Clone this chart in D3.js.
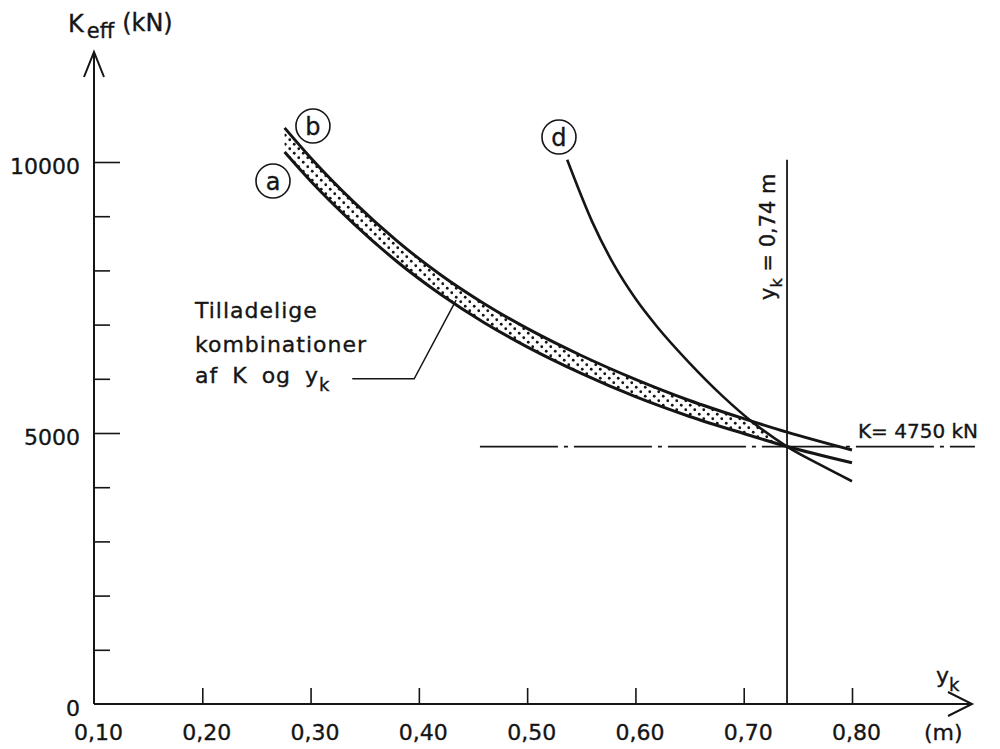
<!DOCTYPE html>
<html>
<head>
<meta charset="utf-8">
<script src="https://cdn.jsdelivr.net/npm/d3@7"></script>
<style>
  body { margin: 0; background: #fff; }
  text { font-family: "DejaVu Sans", sans-serif; fill: #151515; stroke: #151515; stroke-width: 0.35px; }
</style>
</head>
<body>
<div class="chart"></div>
<script>
// tick values
var xTicks = [0.1, 0.2, 0.3, 0.4, 0.5, 0.6, 0.7, 0.8];
var yTicks = [0, 1000, 2000, 3000, 4000, 5000, 6000, 7000, 8000, 9000, 10000];
var yLabelled = [0, 5000, 10000];

// curves a and b (edges of the dotted band), K_eff in kN against y_k in m
var bandYk = [0.276, 0.30, 0.34, 0.38, 0.42, 0.46, 0.50, 0.55, 0.60, 0.65, 0.70, 0.74, 0.80];
var curveA = [10185, 9650, 8860, 8160, 7560, 7040, 6590, 6100, 5670, 5305, 4990, 4750, 4450];
var curveB = [10630, 10080, 9260, 8540, 7920, 7390, 6930, 6430, 5990, 5600, 5265, 5015, 4685];

// curve d
var curveDYk = [0.537, 0.56, 0.58, 0.60, 0.62, 0.65, 0.68, 0.71, 0.74, 0.77, 0.80];
var curveD = [10040, 8900, 8110, 7480, 6960, 6290, 5690, 5170, 4750, 4420, 4110];

var kLimit = 4750;
var ykLimit = 0.74;

var svgWidth = 1000;
var svgHeight = 749;

var margin = {
  top: 52,
  right: 148,
  bottom: 45,
  left: 94
};

var width = svgWidth - margin.left - margin.right;
var height = svgHeight - margin.top - margin.bottom;

var svg = d3.select(".chart")
  .append("svg")
  .attr("width", svgWidth)
  .attr("height", svgHeight);

svg.append("rect")
  .attr("width", svgWidth)
  .attr("height", svgHeight)
  .attr("fill", "#fff");

var chartGroup = svg.append("g")
  .attr("transform", `translate(${margin.left}, ${margin.top})`);

var xScale = d3.scaleLinear()
  .domain([0.1, 0.8])
  .range([0, width]);

var yScale = d3.scaleLinear()
  .domain([0, 10000])
  .range([height, 110]);

// dot pattern for the admissible band
var defs = svg.append("defs");
var pattern = defs.append("pattern")
  .attr("id", "dots")
  .attr("patternUnits", "userSpaceOnUse")
  .attr("width", 9)
  .attr("height", 9);
pattern.append("circle").attr("cx", 2.25).attr("cy", 2.25).attr("r", 1.4).attr("fill", "#151515");
pattern.append("circle").attr("cx", 6.75).attr("cy", 6.75).attr("r", 1.4).attr("fill", "#151515");

var band = bandYk.map((yk, i) => ({yk: yk, a: curveA[i], b: curveB[i]}));
var dPoints = curveDYk.map((yk, i) => ({yk: yk, k: curveD[i]}));

var line = d3.line()
  .x(d => xScale(d.yk))
  .y(d => yScale(d.k))
  .curve(d3.curveMonotoneX);

// clip the band to the side of curve d
var dPath = line(dPoints);
var xd0 = xScale(curveDYk[0]);
var xdN = xScale(curveDYk[curveDYk.length - 1]);
defs.append("clipPath")
  .attr("id", "leftOfD")
  .append("path")
  .attr("d", `M-10,-60 L${xd0},-60 ` + dPath.replace(/^M/, "L") + ` L${xdN + 40},${height + 10} L-10,${height + 10} Z`);

var area = d3.area()
  .x(d => xScale(d.yk))
  .y0(d => yScale(d.a))
  .y1(d => yScale(d.b))
  .curve(d3.curveMonotoneX);

chartGroup.append("path")
  .datum(band)
  .attr("d", area)
  .attr("fill", "url(#dots)")
  .attr("clip-path", "url(#leftOfD)");

// axes
var xAxis = d3.axisBottom(xScale)
  .tickValues(xTicks)
  .tickSize(-16)
  .tickFormat(d => d.toFixed(2).replace(".", ","));

var gx = chartGroup.append("g")
  .attr("transform", `translate(0, ${height})`)
  .attr("font-size", null)
  .attr("color", "#151515")
  .call(xAxis);
gx.select(".domain").remove();
gx.selectAll(".tick").filter(d => d === 0.1).select("line").remove();
gx.selectAll(".tick line").attr("stroke-width", 1.6);
gx.selectAll(".tick text")
  .attr("y", 36)
  .attr("dy", null)
  .attr("dx", 4)
  .style("font-size", "22px");

var yAxis = d3.axisLeft(yScale)
  .tickValues(yTicks)
  .tickSize(-16)
  .tickFormat(d => yLabelled.includes(d) ? d : "");

var gy = chartGroup.append("g")
  .attr("font-size", null)
  .attr("color", "#151515")
  .call(yAxis);
gy.select(".domain").remove();
gy.selectAll(".tick").filter(d => d === 0).select("line").remove();
gy.selectAll(".tick line")
  .attr("x2", d => yLabelled.includes(d) ? 26 : 16)
  .attr("stroke-width", 1.6);
gy.selectAll(".tick text")
  .attr("x", -14)
  .attr("dy", "0.5em")
  .style("font-size", "22px");

// axis lines with open arrow heads
chartGroup.append("path")
  .attr("d", `M0,${height} V0 M-10,25 L0,0 L10,25`)
  .attr("fill", "none")
  .attr("stroke", "#151515")
  .attr("stroke-width", 2);

chartGroup.append("path")
  .attr("d", `M0,${height} H878 M854,${height - 12} L878,${height} L854,${height + 12}`)
  .attr("fill", "none")
  .attr("stroke", "#151515")
  .attr("stroke-width", 2);

// limit lines
chartGroup.append("line")
  .attr("x1", xScale(ykLimit))
  .attr("x2", xScale(ykLimit))
  .attr("y1", yScale(10040))
  .attr("y2", height)
  .attr("stroke", "#151515")
  .attr("stroke-width", 1.8);

chartGroup.append("line")
  .attr("x1", xScale(0.4564))
  .attr("x2", xScale(0.9135))
  .attr("y1", yScale(kLimit))
  .attr("y2", yScale(kLimit))
  .attr("stroke", "#151515")
  .attr("stroke-width", 1.8)
  .attr("stroke-dasharray", "78,6,4,6");

// curves
chartGroup.append("path")
  .datum(band.map(d => ({yk: d.yk, k: d.a})))
  .attr("d", line)
  .attr("fill", "none")
  .attr("stroke", "#151515")
  .attr("stroke-width", 3);

chartGroup.append("path")
  .datum(band.map(d => ({yk: d.yk, k: d.b})))
  .attr("d", line)
  .attr("fill", "none")
  .attr("stroke", "#151515")
  .attr("stroke-width", 3);

chartGroup.append("path")
  .datum(dPoints)
  .attr("d", line)
  .attr("fill", "none")
  .attr("stroke", "#151515")
  .attr("stroke-width", 2.6);

// circled curve names
var tags = [
  {name: "a", yk: 0.2653, k: 9650},
  {name: "b", yk: 0.3022, k: 10664},
  {name: "d", yk: 0.5294, k: 10461}
];
var tag = chartGroup.selectAll(".tag")
  .data(tags)
  .enter()
  .append("g")
  .attr("transform", d => `translate(${xScale(d.yk)}, ${yScale(d.k)})`);
tag.append("circle")
  .attr("r", 17)
  .attr("fill", "#fff")
  .attr("stroke", "#151515")
  .attr("stroke-width", 1.6);
tag.append("text")
  .attr("text-anchor", "middle")
  .attr("dy", "0.36em")
  .style("font-size", "24px")
  .text(d => d.name);

// band annotation and leader
chartGroup.append("path")
  .attr("d", `M${xScale(0.3385)},${yScale(6000)} H${xScale(0.3957)} L${xScale(0.4344)},${yScale(7450)}`)
  .attr("fill", "none")
  .attr("stroke", "#151515")
  .attr("stroke-width", 1.5);

var note = chartGroup.append("text")
  .style("font-size", "22px")
  .style("letter-spacing", "1px")
  .style("word-spacing", "6px");
note.append("tspan").attr("x", 101).attr("y", 266).text("Tilladelige");
note.append("tspan").attr("x", 101).attr("y", 300).text("kombinationer");
note.append("tspan").attr("x", 101).attr("y", 331).text("af K og y");
note.append("tspan").attr("dy", 8).style("font-size", "18px").text("k");

// label for the limit lines
var vText = chartGroup.append("text")
  .attr("transform", `translate(${xScale(ykLimit) - 12}, 248) rotate(-90)`)
  .style("font-size", "21px");
vText.append("tspan").text("y");
vText.append("tspan").attr("dy", 7).style("font-size", "16px").text("k");
vText.append("tspan").attr("dy", -7).text(" = 0,74 m");

chartGroup.append("text")
  .attr("x", 764)
  .attr("y", 386)
  .style("font-size", "20px")
  .text("K= 4750 kN");

// axis titles
var yTitle = svg.append("text").attr("x", 68).attr("y", 32);
yTitle.append("tspan").style("font-size", "24px").text("K");
yTitle.append("tspan").attr("dy", 6).attr("dx", 3).style("font-size", "21px").text("eff");
yTitle.append("tspan").attr("dy", -7).attr("dx", 8).style("font-size", "24px").text("(kN)");

var xTitle = svg.append("text").attr("x", 936).attr("y", 683);
xTitle.append("tspan").style("font-size", "22px").text("y");
xTitle.append("tspan").attr("dy", 8).style("font-size", "18px").text("k");

svg.append("text")
  .attr("x", 924)
  .attr("y", 740)
  .style("font-size", "22px")
  .text("(m)");
</script>
</body>
</html>
